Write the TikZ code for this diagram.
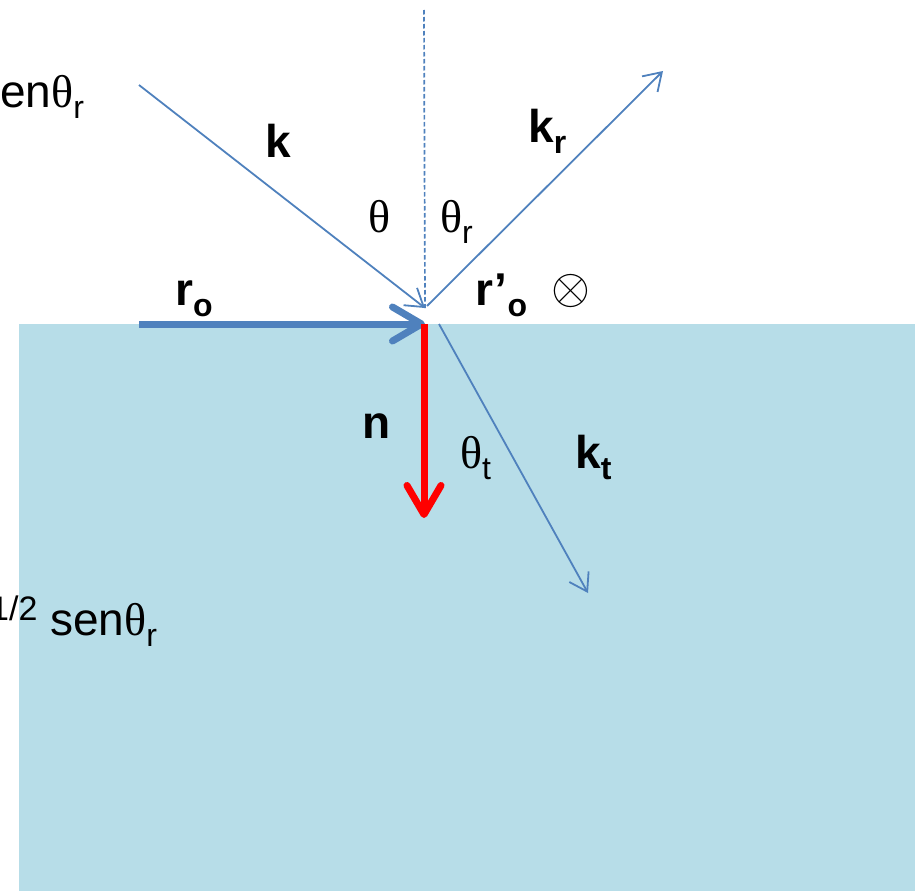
\documentclass[tikz,border=0pt]{standalone}
\usepackage{fontspec}
\usepackage{graphicx}
\setmainfont{Liberation Sans}
\newfontfamily\thetafont{Liberation Serif}
\usetikzlibrary{arrows.meta}

\definecolor{seablue}{RGB}{183,221,232}
\definecolor{rayblue}{RGB}{79,129,189}

\newcommand{\thx}{{\thetafont θ}}
\newcommand{\lowsub}[1]{\raisebox{-11pt}{\fontsize{32}{32}\selectfont #1}}

\begin{document}
\begin{tikzpicture}[
  x=1pt, y=-1pt,
  lbl/.style={anchor=base west, inner sep=0pt, font=\fontsize{46}{50}\selectfont},
  blbl/.style={lbl, font=\fontsize{46}{50}\selectfont\bfseries},
  ray/.style={draw=rayblue, line width=1.8pt,
              -{Straight Barb[length=17pt, width=22pt]}},
  fat/.style={line width=7pt,
              -{Straight Barb[round, length=29pt, width=34pt]}}
]
  \useasboundingbox (0,0) rectangle (915,891);

  % medium below the interface
  \fill[seablue] (19,324) rectangle (915,891);

  % points of the rays
  \coordinate (hit) at (425,308);
  \coordinate (kin) at (139,85);
  \coordinate (kout) at (663,71);
  \coordinate (kstart) at (427,306);
  \coordinate (tstart) at (439,324);
  \coordinate (kend) at (588,593);
  \coordinate (ntop) at (424,10);
  \coordinate (rstart) at (139,324);
  \coordinate (rend) at (425,324);
  \coordinate (nstart) at (424,324);
  \coordinate (nend) at (424,518);

  % normal (dashed) and the three rays
  \draw[rayblue, line width=1.7pt, dash pattern=on 4.5pt off 2.5pt] (ntop) -- (hit);
  \draw[ray] (kin) -- (hit);
  \draw[ray] (kstart) -- (kout);
  \draw[ray] (tstart) -- (kend);

  % position and normal vectors
  \draw[fat, rayblue] (rstart) -- (rend);
  \draw[fat, red] (nstart) -- (nend);

  % labels
  \node[lbl] (eqtop) at (0,107) {en\thx\lowsub{r}};
  \node[lbl, font=\fontsize{34}{36}\selectfont] (half) at (-10,620) {1/2};
  \node[lbl] (eqbot) at (50,635) {sen\thx\lowsub{r}};

  \node[blbl] (k) at (265,157) {k};
  \node[blbl] (kr) at (528,142) {k\lowsub{\bfseries r}};
  \node[lbl] (th) at (368,232) {\thx};
  \node[lbl] (thr) at (440,232) {\thx\lowsub{r}};
  \node[blbl] (ro) at (175,305) {r\lowsub{\bfseries o}};
  \node[blbl] (rpo) at (475,305) {r’\lowsub{\bfseries o}};
  \node[inner sep=0pt] (into) at (571,291) {\scalebox{5}{$\otimes$}};
  \node[blbl] (n) at (362,438) {n};
  \node[lbl] (tht) at (460,468) {\thx\lowsub{t}};
  \node[blbl] (kt) at (575,468) {k\lowsub{\bfseries t}};
\end{tikzpicture}
\end{document}
